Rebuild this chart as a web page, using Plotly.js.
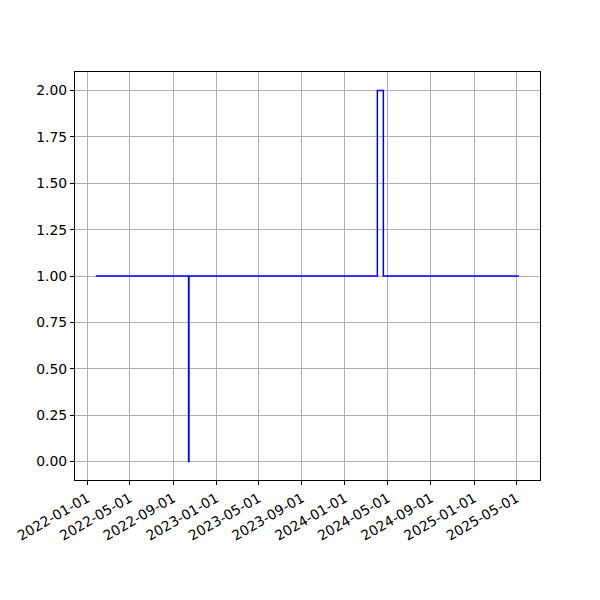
<!DOCTYPE html>
<html>
<head>
<meta charset="utf-8">
<script src="https://cdn.plot.ly/plotly-3.0.1.min.js"></script>
<style>html,body{margin:0;padding:0;background:#fff;}#chart{width:600px;height:600px;}</style>
</head>
<body>
<div id="chart"></div>
<script>
const dates = ["2022-01-25", "2022-10-15", "2022-10-16", "2024-04-02", "2024-04-19", "2025-05-08"];
const values = [1, 0, 1, 2, 1, 1];
const xTickVals = ["2022-01-01", "2022-05-01", "2022-09-01", "2023-01-01", "2023-05-01", "2023-09-01",
                   "2024-01-01", "2024-05-01", "2024-09-01", "2025-01-01", "2025-05-01"];
const yTickVals = [0, 0.25, 0.5, 0.75, 1.0, 1.25, 1.5, 1.75, 2.0];

const trace = {
  x: dates, y: values, type: 'scatter', mode: 'lines',
  line: {shape: 'hv', color: '#0000ff', width: 1.5},
  hoverinfo: 'skip'
};
const layout = {
  width: 600, height: 600,
  margin: {l: 75, r: 60, t: 72, b: 120},
  paper_bgcolor: '#fff', plot_bgcolor: '#fff',
  showlegend: false,
  font: {family: 'DejaVu Sans', size: 13.9, color: '#000'},
  xaxis: {
    type: 'date', range: ['2021-11-27', '2025-07-07'],
    tickvals: xTickVals, ticktext: xTickVals, tickangle: -30,
    showgrid: true, gridcolor: '#b0b0b0', gridwidth: 1,
    showline: true, linecolor: '#000', linewidth: 1, mirror: true,
    ticks: 'outside', ticklen: 4, tickcolor: '#000', tickwidth: 1,
    zeroline: false, tickfont: {size: 13.9}
  },
  yaxis: {
    range: [-0.1, 2.1], tickvals: yTickVals, tickformat: '.2f',
    showgrid: true, gridcolor: '#b0b0b0', gridwidth: 1,
    showline: true, linecolor: '#000', linewidth: 1, mirror: true,
    ticks: 'outside', ticklen: 4, tickcolor: '#000', tickwidth: 1,
    zeroline: false, tickfont: {size: 13.9}
  }
};
Plotly.newPlot('chart', [trace], layout, {staticPlot: true, displayModeBar: false});
</script>
</body>
</html>
